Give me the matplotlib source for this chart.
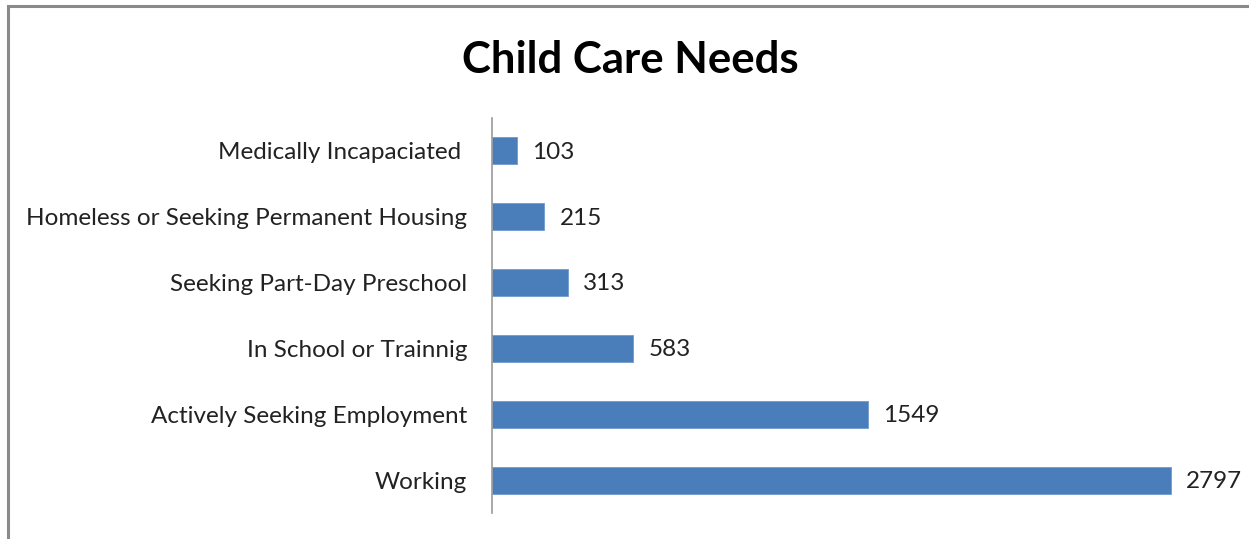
import matplotlib
matplotlib.use("Agg")
import matplotlib.pyplot as plt
from matplotlib.patches import Rectangle

categories = ["Working", "Actively Seeking Employment", "In School or Trainnig",
              "Seeking Part-Day Preschool", "Homeless or Seeking Permanent Housing",
              "Medically Incapaciated "]
values = [2797, 1549, 583, 313, 215, 103]
title = "Child Care Needs"

plt.rcParams['font.family'] = ['Lato', 'DejaVu Sans']

fig = plt.figure(figsize=(12.49, 5.39), dpi=100)
fig.patch.set_facecolor('white')

# outer frame of the screenshot
fig.add_artist(Rectangle((8/1249, -0.1), 1.2, (539-6)/539 + 0.1, transform=fig.transFigure,
                         fill=False, edgecolor='#8a8a8a', linewidth=2.2))

ax = fig.add_axes([492/1249, 1-513/539, 728/1249, (513-118)/539])
y = list(range(len(categories)))
ax.barh(y, values, height=0.41, color='#4a7ebb', edgecolor='#6f9bd0', linewidth=0.6)
ax.set_xlim(0, 3000)
ax.set_ylim(-0.5, len(categories) - 0.5)
ax.set_yticks(y)
ax.set_yticklabels(categories, fontsize=17.5, color='#222222')
ax.tick_params(axis='y', length=0, pad=18)
ax.set_xticks([])
for s in ['top', 'right', 'bottom']:
    ax.spines[s].set_visible(False)
ax.spines['left'].set_color('#9a9a9a')
ax.spines['left'].set_linewidth(1.2)

for yi, v in zip(y, values):
    ax.annotate(str(v), (v, yi), xytext=(11, -1), textcoords='offset points',
                va='center', ha='left', fontsize=17.5, color='#222222')

fig.text(630/1249, 1-60/539, title, ha='center', va='center', fontsize=31.5,
         fontweight='bold', color='black')

fig.savefig("out.png", dpi=100)
